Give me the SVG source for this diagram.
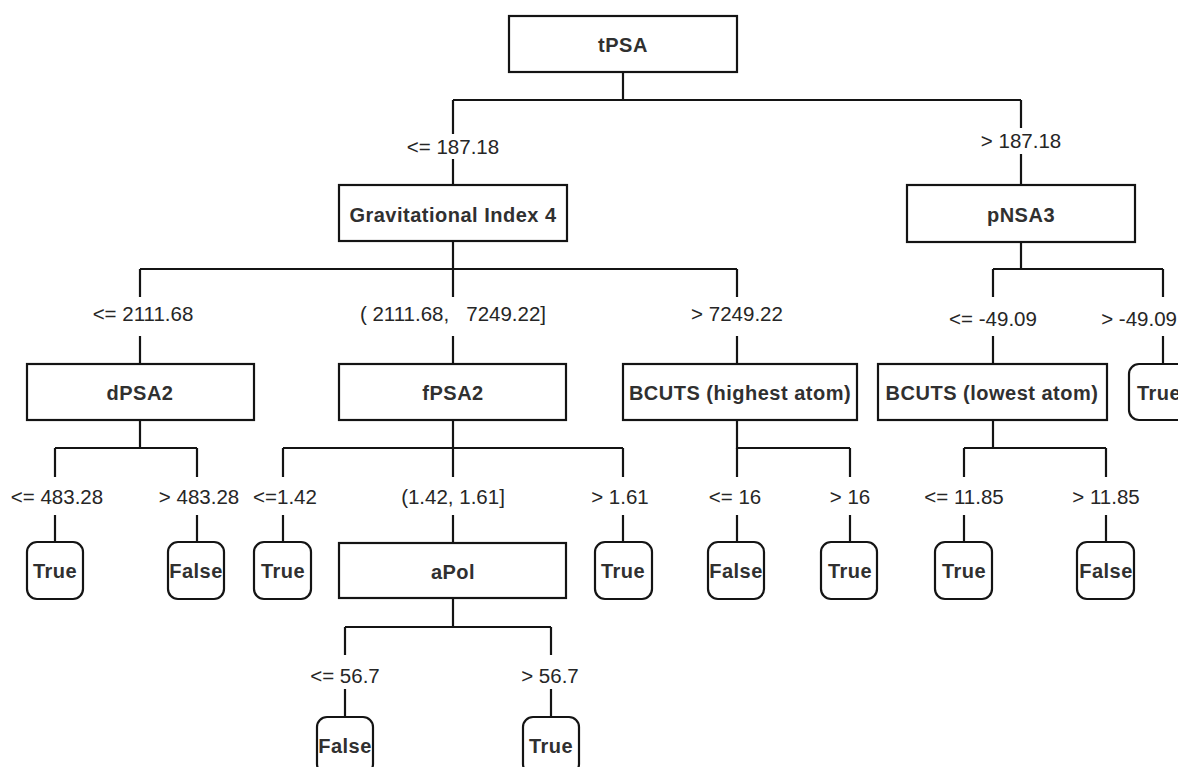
<svg xmlns="http://www.w3.org/2000/svg" width="1178" height="767" viewBox="0 0 1178 767">
  <style>
    .box { fill: #ffffff; stroke: #141414; stroke-width: 2.2; }
    .leaf { fill: #ffffff; stroke: #141414; stroke-width: 2.2; }
    .edge { fill: none; stroke: #141414; stroke-width: 2.2; }
    .nt { font-family: "Liberation Sans", Arial, sans-serif; font-size: 20px; font-weight: bold; letter-spacing: 0.5px; fill: #303030; text-anchor: middle; }
    .lt { font-family: "Liberation Sans", Arial, sans-serif; font-size: 20.5px; fill: #262626; text-anchor: middle; }
  </style>
  <rect width="1178" height="767" fill="#ffffff"/>

  <!-- connectors: elbow links between parents and children, split around their labels -->
  <g id="connectors">
    <path class="edge" d="M623 72 V100 M453 100 H1021"/>
    <path class="edge" d="M453 100 V134 M453 159 V185"/>
    <path class="edge" d="M1021 100 V128 M1021 154 V185"/>

    <path class="edge" d="M453 241 V269 M140 269 H737"/>
    <path class="edge" d="M140 269 V297 M140 336 V364"/>
    <path class="edge" d="M453 269 V297 M453 336 V364"/>
    <path class="edge" d="M737 269 V297 M737 336 V364"/>

    <path class="edge" d="M1021 242 V269 M993 269 H1163"/>
    <path class="edge" d="M993 269 V297 M993 336 V364"/>
    <path class="edge" d="M1163 269 V297 M1163 336 V364"/>

    <path class="edge" d="M140 420 V448 M55 448 H197"/>
    <path class="edge" d="M55 448 V477 M55 515 V542"/>
    <path class="edge" d="M197 448 V477 M197 515 V542"/>

    <path class="edge" d="M453 420 V448 M283 448 H623"/>
    <path class="edge" d="M283 448 V477 M283 515 V542"/>
    <path class="edge" d="M453 448 V477 M453 515 V543"/>
    <path class="edge" d="M623 448 V477 M623 515 V542"/>

    <path class="edge" d="M737 420 V448 H850"/>
    <path class="edge" d="M737 448 V477 M737 515 V542"/>
    <path class="edge" d="M850 448 V477 M850 515 V542"/>

    <path class="edge" d="M993 420 V448 M964 448 H1106"/>
    <path class="edge" d="M964 448 V477 M964 515 V542"/>
    <path class="edge" d="M1106 448 V477 M1106 515 V542"/>

    <path class="edge" d="M453 598 V627 M345 627 H551"/>
    <path class="edge" d="M345 627 V655 M345 689 V717"/>
    <path class="edge" d="M551 627 V655 M551 689 V717"/>
  </g>

  <!-- branch conditions -->
  <g id="edge-labels">
    <text class="lt" x="453" y="154">&lt;= 187.18</text>
    <text class="lt" x="1021" y="148">&gt; 187.18</text>
    <text class="lt" x="143" y="321">&lt;= 2111.68</text>
    <text class="lt" x="453" y="321" xml:space="preserve">( 2111.68,   7249.22]</text>
    <text class="lt" x="737" y="321">&gt; 7249.22</text>
    <text class="lt" x="993" y="326">&lt;= -49.09</text>
    <text class="lt" x="1177" y="326" style="text-anchor:end">&gt; -49.09</text>
    <text class="lt" x="57" y="504">&lt;= 483.28</text>
    <text class="lt" x="199" y="504">&gt; 483.28</text>
    <text class="lt" x="285" y="504">&lt;=1.42</text>
    <text class="lt" x="453" y="504">(1.42, 1.61]</text>
    <text class="lt" x="620" y="504">&gt; 1.61</text>
    <text class="lt" x="735" y="504">&lt;= 16</text>
    <text class="lt" x="850" y="504">&gt; 16</text>
    <text class="lt" x="964" y="504">&lt;= 11.85</text>
    <text class="lt" x="1106" y="504">&gt; 11.85</text>
    <text class="lt" x="345" y="683">&lt;= 56.7</text>
    <text class="lt" x="550" y="683">&gt; 56.7</text>
  </g>

  <!-- split nodes -->
  <g id="node-tpsa"><rect class="box" x="509" y="16" width="228" height="56"/><text class="nt" x="623" y="52">tPSA</text></g>
  <g id="node-grav"><rect class="box" x="339" y="185" width="228" height="56"/><text class="nt" x="453" y="222">Gravitational Index 4</text></g>
  <g id="node-pnsa3"><rect class="box" x="907" y="185" width="228" height="57"/><text class="nt" x="1021" y="222">pNSA3</text></g>
  <g id="node-dpsa2"><rect class="box" x="27" y="364" width="227" height="56"/><text class="nt" x="140" y="400">dPSA2</text></g>
  <g id="node-fpsa2"><rect class="box" x="339" y="364" width="227" height="56"/><text class="nt" x="453" y="400">fPSA2</text></g>
  <g id="node-bcuts-high"><rect class="box" x="623" y="364" width="234" height="56"/><text class="nt" x="740" y="400">BCUTS (highest atom)</text></g>
  <g id="node-bcuts-low"><rect class="box" x="878" y="364" width="229" height="56"/><text class="nt" x="992" y="400">BCUTS (lowest atom)</text></g>
  <g id="node-apol"><rect class="box" x="339" y="543" width="227" height="55"/><text class="nt" x="453" y="579">aPol</text></g>

  <!-- leaf outcomes -->
  <g id="leaf-pnsa3-gt"><rect class="leaf" x="1129" y="364" width="62" height="56" rx="10"/><text class="nt" x="1159" y="400">True</text></g>
  <g id="leaf-dpsa2-le"><rect class="leaf" x="27" y="542" width="56" height="57" rx="10"/><text class="nt" x="55" y="578">True</text></g>
  <g id="leaf-dpsa2-gt"><rect class="leaf" x="168" y="542" width="56" height="57" rx="10"/><text class="nt" x="196" y="578">False</text></g>
  <g id="leaf-fpsa2-le"><rect class="leaf" x="254" y="542" width="57" height="57" rx="10"/><text class="nt" x="283" y="578">True</text></g>
  <g id="leaf-fpsa2-gt"><rect class="leaf" x="595" y="542" width="57" height="57" rx="10"/><text class="nt" x="623" y="578">True</text></g>
  <g id="leaf-high-le"><rect class="leaf" x="708" y="542" width="56" height="57" rx="10"/><text class="nt" x="736" y="578">False</text></g>
  <g id="leaf-high-gt"><rect class="leaf" x="821" y="542" width="56" height="57" rx="10"/><text class="nt" x="850" y="578">True</text></g>
  <g id="leaf-low-le"><rect class="leaf" x="935" y="542" width="57" height="57" rx="10"/><text class="nt" x="964" y="578">True</text></g>
  <g id="leaf-low-gt"><rect class="leaf" x="1077" y="542" width="57" height="57" rx="10"/><text class="nt" x="1106" y="578">False</text></g>
  <g id="leaf-apol-le"><rect class="leaf" x="317" y="717" width="56" height="57" rx="10"/><text class="nt" x="345" y="753">False</text></g>
  <g id="leaf-apol-gt"><rect class="leaf" x="523" y="717" width="56" height="57" rx="10"/><text class="nt" x="551" y="753">True</text></g>
</svg>
